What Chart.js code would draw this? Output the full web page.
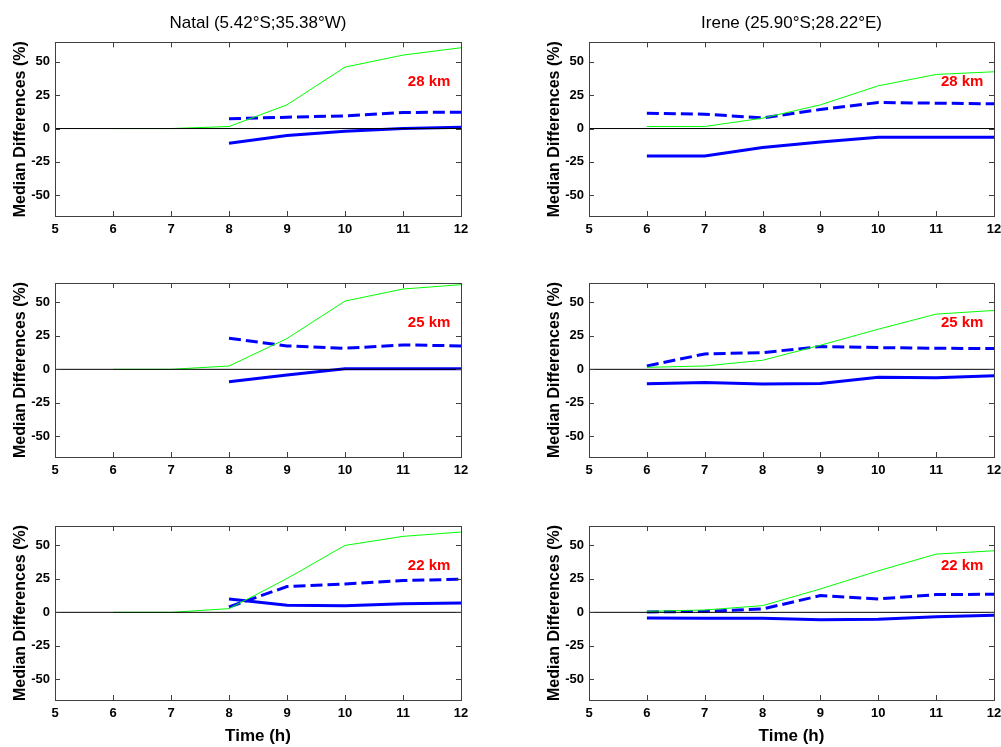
<!DOCTYPE html>
<html>
<head>
<meta charset="utf-8">
<title>Median Differences</title>
<script src="https://cdn.jsdelivr.net/npm/chart.js@4/dist/chart.umd.min.js"></script>
<style>
  body { margin: 0; background: #fff; }
  #page { position: relative; width: 1001px; height: 747px; background: #fff; overflow: hidden; }
  #page canvas { position: absolute; }
</style>
</head>
<body>
<div id="page">
  <canvas id="natal28" width="480" height="240" style="left:0;top:0"></canvas>
  <canvas id="irene28" width="480" height="240" style="left:534px;top:0"></canvas>
  <canvas id="natal25" width="480" height="240" style="left:0;top:240px"></canvas>
  <canvas id="irene25" width="480" height="240" style="left:534px;top:240px"></canvas>
  <canvas id="natal22" width="480" height="267" style="left:0;top:480px"></canvas>
  <canvas id="irene22" width="480" height="267" style="left:534px;top:480px"></canvas>
</div>
<script>
// hours on the x axis (h)
const hours = [6, 7, 8, 9, 10, 11, 12]
const xTicks = [5, 6, 7, 8, 9, 10, 11, 12]
const yTicks = [-50, -25, 0, 25, 50]
const zeroLineX = [5, 12]

const stationTitles = ['Natal (5.42°S;35.38°W)', 'Irene (25.90°S;28.22°E)']
const heightLabels = ['28 km', '25 km', '22 km']

// Natal 28 km
const natal28Green = [0, 0, 1.5, 17.75, 46, 55, 60.5]
const natal28Dashed = [null, null, 7.25, 8.5, 9.5, 12, 12.25]
const natal28Solid = [null, null, -11, -5.25, -2, 0, 1]

// Irene 28 km
const irene28Green = [1.5, 1.5, 7.75, 17.75, 32, 40.5, 42.5]
const irene28Dashed = [11.5, 10.75, 8, 14.25, 19.5, 19, 18.5]
const irene28Solid = [-20.5, -20.5, -14.25, -10, -6.5, -6.5, -6.5]

// Natal 25 km
const natal25Green = [0, 0, 2.5, 23, 51, 60, 63.25]
const natal25Dashed = [null, null, 23.25, 17.5, 15.75, 18.25, 17.5]
const natal25Solid = [null, null, -9.25, -4.25, 0.5, 0.5, 0.5]

// Irene 25 km
const irene25Green = [1.5, 2.5, 6.75, 18, 30, 41.25, 44]
const irene25Dashed = [2.5, 11.5, 12.5, 17, 16.25, 15.75, 15.5]
const irene25Solid = [-10.75, -9.75, -11, -10.5, -6, -6.25, -4.75]

// Natal 22 km
const natal22Green = [0, 0, 2.75, 25.25, 50, 56.75, 60]
const natal22Dashed = [null, null, 4, 19.25, 21.25, 23.75, 24.75]
const natal22Solid = [null, null, 10, 5.25, 5, 6.5, 7]

// Irene 22 km
const irene22Green = [0.75, 1.75, 5, 17.5, 31, 43.5, 46]
const irene22Dashed = [0.25, 0.75, 2.5, 12.5, 10, 13.25, 13.5]
const irene22Solid = [-4.25, -4.5, -4.5, -5.5, -5.25, -3.25, -2.25]

const textFamily = "'Liberation Sans', Arial, Helvetica, sans-serif"
const tickFont = { family: textFamily, size: 13, weight: 'bold' }

function toPoints(xs, ys) {
  return xs.map((x, i) => ({ x: x, y: ys[i] }))
}

// MATLAB style box with inward ticks on all four sides
const boxPlugin = {
  id: 'matlabBox',
  afterDatasetsDraw(chart) {
    const ctx = chart.ctx
    const area = chart.chartArea
    const xs = chart.scales.x
    const ys = chart.scales.y
    const len = 5
    ctx.save()
    ctx.strokeStyle = '#404040'
    ctx.lineWidth = 1
    ctx.strokeRect(Math.round(area.left) + 0.5, Math.round(area.top) + 0.5,
      Math.round(area.right - area.left), Math.round(area.bottom - area.top))
    ctx.beginPath()
    xTicks.forEach(v => {
      const px = Math.round(xs.getPixelForValue(v)) + 0.5
      ctx.moveTo(px, area.bottom)
      ctx.lineTo(px, area.bottom - len)
      ctx.moveTo(px, area.top)
      ctx.lineTo(px, area.top + len)
    })
    yTicks.forEach(v => {
      const py = Math.round(ys.getPixelForValue(v)) + 0.5
      ctx.moveTo(area.left, py)
      ctx.lineTo(area.left + len, py)
      ctx.moveTo(area.right, py)
      ctx.lineTo(area.right - len, py)
    })
    ctx.stroke()
    ctx.restore()
  }
}

const kmLabelPlugin = {
  id: 'kmLabel',
  afterDatasetsDraw(chart, args, opts) {
    if (!opts.text) return
    const ctx = chart.ctx
    ctx.save()
    ctx.fillStyle = '#ff0000'
    ctx.font = `bold 15px ${textFamily}`
    ctx.textAlign = 'center'
    ctx.textBaseline = 'middle'
    ctx.fillText(opts.text,
      chart.scales.x.getPixelForValue(opts.x),
      chart.scales.y.getPixelForValue(opts.y))
    ctx.restore()
  }
}

function initPanel(id, row, col, green, dashed, solid) {
  const ctx = document.getElementById(id).getContext('2d')
  const isTop = row === 0
  const isBottom = row === 2
  const axisHeights = [24, 23, 47]
  const topPads = [0, 43, 46]

  const datasets = [
    {
      data: toPoints(zeroLineX, [0, 0]),
      borderColor: '#000000',
      borderWidth: 1
    },
    {
      data: toPoints(hours, green),
      borderColor: '#00ff00',
      borderWidth: 1
    },
    {
      data: toPoints(hours, dashed),
      borderColor: '#0000ff',
      borderWidth: 3,
      borderDash: [12, 5]
    },
    {
      data: toPoints(hours, solid),
      borderColor: '#0000ff',
      borderWidth: 3
    }
  ]

  const options = {
    responsive: false,
    animation: false,
    layout: {
      padding: { top: topPads[row], right: col === 0 ? 19 : 20, bottom: 0, left: 0 }
    },
    elements: {
      point: { radius: 0 },
      line: { tension: 0, borderCapStyle: 'butt' }
    },
    plugins: {
      legend: { display: false },
      tooltip: { enabled: false },
      title: {
        display: isTop,
        fullSize: false,
        text: stationTitles[col],
        color: '#000000',
        font: { family: textFamily, size: 17, weight: 'normal' },
        padding: { top: 13, bottom: 9 }
      },
      kmLabel: { text: heightLabels[row], x: 11.45, y: 35 }
    },
    scales: {
      x: {
        type: 'linear',
        min: 5,
        max: 12,
        grid: { display: false, drawTicks: false },
        border: { display: false },
        ticks: { stepSize: 1, color: '#000000', font: tickFont, padding: 6, maxRotation: 0 },
        afterBuildTicks: (scale) => { scale.ticks = xTicks.map(v => ({ value: v })) },
        afterFit: (scale) => { scale.height = axisHeights[row] },
        title: {
          display: isBottom,
          text: 'Time (h)',
          color: '#000000',
          font: { family: textFamily, size: 17, weight: 'bold' },
          padding: { top: 0, bottom: 0 }
        }
      },
      y: {
        min: -65.5,
        max: 64.5,
        grid: { display: false, drawTicks: false },
        border: { display: false },
        ticks: { color: '#000000', font: tickFont, padding: 5 },
        afterBuildTicks: (scale) => { scale.ticks = yTicks.map(v => ({ value: v })) },
        afterFit: (scale) => { scale.width = 55 },
        title: {
          display: true,
          text: 'Median Differences (%)',
          color: '#000000',
          font: { family: textFamily, size: 16, weight: 'bold' },
          padding: { top: 11, bottom: 0 }
        }
      }
    }
  }

  return new Chart(ctx, {
    type: 'line',
    data: { datasets: datasets },
    options: options,
    plugins: [boxPlugin, kmLabelPlugin]
  })
}

initPanel('natal28', 0, 0, natal28Green, natal28Dashed, natal28Solid)
initPanel('irene28', 0, 1, irene28Green, irene28Dashed, irene28Solid)
initPanel('natal25', 1, 0, natal25Green, natal25Dashed, natal25Solid)
initPanel('irene25', 1, 1, irene25Green, irene25Dashed, irene25Solid)
initPanel('natal22', 2, 0, natal22Green, natal22Dashed, natal22Solid)
initPanel('irene22', 2, 1, irene22Green, irene22Dashed, irene22Solid)
</script>
</body>
</html>
